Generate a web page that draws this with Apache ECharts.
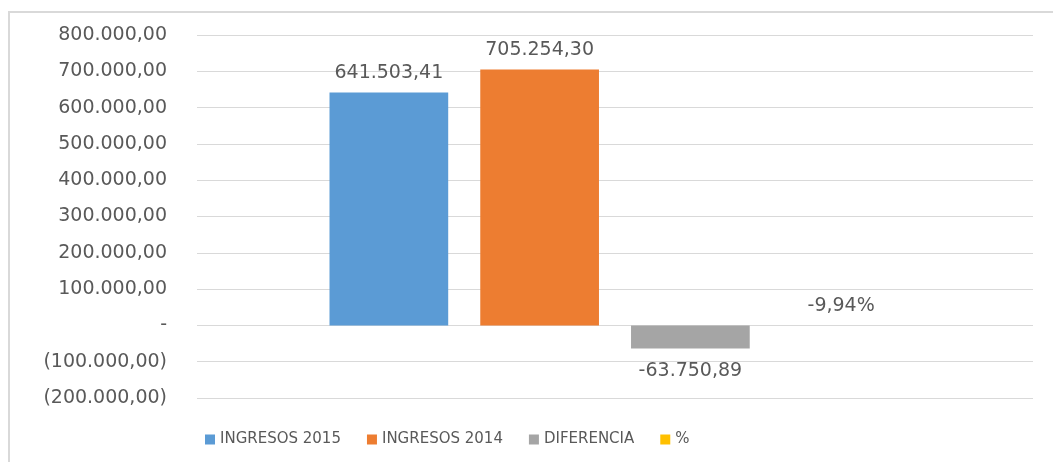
<!DOCTYPE html>
<html>
<head>
<meta charset="utf-8">
<script src="https://cdn.jsdelivr.net/npm/echarts@6/dist/echarts.min.js"></script>
<style>
  html, body { margin: 0; padding: 0; background: #fff; }
  #main { width: 1053px; height: 462px; }
</style>
</head>
<body>
<div id="main"></div>
<script>
const categories = ['']
const seriesNames = ['INGRESOS 2015', 'INGRESOS 2014', 'DIFERENCIA', '%']
const ingresos2015 = [641503.41]
const ingresos2014 = [705254.30]
const diferencia = [-63750.89]
const porcentaje = [-9.94]
const colors = ['#5B9BD5', '#ED7D31', '#A5A5A5', '#FFC000']

// 1234567.8 -> 1.234.567,80
function fmt(v) {
  let s = Math.abs(v).toFixed(2).split('.')
  let ent = s[0].replace(/\B(?=(\d{3})+(?!\d))/g, '.')
  return (v < 0 ? '-' : '') + ent + ',' + s[1]
}

function axisFmt(v) {
  if (v === 0) return '-'
  if (v < 0) return '(' + fmt(-v) + ')'
  return fmt(v)
}

const textColor = '#595959'
const font = 'DejaVu Sans'

let chart = echarts.init(document.getElementById('main'))

let lbl = {
  show: true,
  color: textColor,
  fontFamily: font,
  fontSize: 19,
  distance: 10
}

let option = {
  animation: false,
  color: colors,
  graphic: [{
    type: 'rect',
    shape: { x: 9, y: 12, width: 1100, height: 500 },
    style: { fill: 'none', stroke: '#D9D9D9', lineWidth: 2 }
  }],
  grid: { left: 197, right: 20, top: 35, bottom: 64 },
  legend: {
    bottom: 10,
    left: 200,
    itemWidth: 10,
    itemHeight: 10,
    itemGap: 26,
    icon: 'rect',
    textStyle: { color: textColor, fontFamily: font, fontSize: 15 },
    data: seriesNames
  },
  xAxis: {
    type: 'category',
    data: categories,
    axisLine: { show: false },
    axisTick: { show: false },
    axisLabel: { show: false }
  },
  yAxis: {
    type: 'value',
    min: -200000,
    max: 800000,
    interval: 100000,
    axisLine: { show: false },
    axisTick: { show: false },
    splitLine: { lineStyle: { color: '#D9D9D9', width: 1 } },
    axisLabel: {
      color: textColor,
      fontFamily: font,
      fontSize: 19,
      margin: 30,
      formatter: axisFmt
    }
  },
  series: [
    {
      name: seriesNames[0], type: 'bar', data: ingresos2015,
      barWidth: '14.2%', barGap: '27%',
      label: Object.assign({}, lbl, { position: 'top', formatter: p => fmt(p.value) })
    },
    {
      name: seriesNames[1], type: 'bar', data: ingresos2014,
      barWidth: '14.2%', barGap: '27%',
      label: Object.assign({}, lbl, { position: 'top', formatter: p => fmt(p.value) })
    },
    {
      name: seriesNames[2], type: 'bar', data: diferencia,
      barWidth: '14.2%', barGap: '27%',
      label: Object.assign({}, lbl, { position: 'bottom', distance: 13, formatter: p => fmt(p.value) })
    },
    {
      name: seriesNames[3], type: 'bar', data: porcentaje,
      barWidth: '14.2%', barGap: '27%',
      label: Object.assign({}, lbl, { position: 'top', distance: 10,
        formatter: p => p.value.toFixed(2).replace('.', ',') + '%' })
    }
  ]
}

chart.setOption(option)
</script>
</body>
</html>
